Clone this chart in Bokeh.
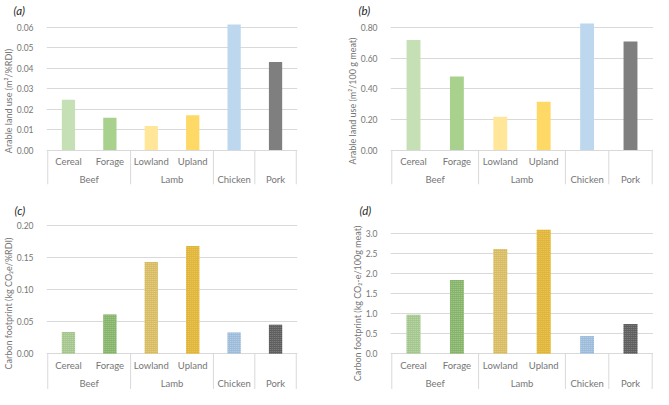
from bokeh.plotting import figure
from bokeh.layouts import column, row
from bokeh.models import FactorRange, ColumnDataSource, Range1d, FixedTicker, NumeralTickFormatter, Title
from bokeh.embed import file_html
from bokeh.resources import INLINE
from bokeh.core.properties import value

# ---- data ----
animals = ["Beef", "Beef", "Lamb", "Lamb", "Chicken", "Pork"]
systems = ["Cereal", "Forage", "Lowland", "Upland", "", ""]

land_per_rdi = [0.0246, 0.0158, 0.0118, 0.0170, 0.0614, 0.0430]
land_per_100g = [0.718, 0.479, 0.218, 0.315, 0.825, 0.707]
carbon_per_rdi = [0.034, 0.061, 0.143, 0.168, 0.033, 0.045]
carbon_per_100g = [0.97, 1.84, 2.61, 3.09, 0.44, 0.74]

ticks_a = [0.00, 0.01, 0.02, 0.03, 0.04, 0.05, 0.06]
ticks_b = [0.00, 0.20, 0.40, 0.60, 0.80]
ticks_c = [0.00, 0.05, 0.10, 0.15, 0.20]
ticks_d = [0.0, 0.5, 1.0, 1.5, 2.0, 2.5, 3.0]

solid_colors = ["#c5e0b4", "#a9d18e", "#ffe699", "#ffd966", "#bdd7ee", "#7f7f7f"]
hatch_bg = ["#d3e6c6", "#b8d8a2", "#f3e2a6", "#f5d672", "#cfe0f0", "#9a9a9a"]
hatch_fg = ["#94bb7b", "#76a85a", "#cdad4c", "#d8aa2a", "#8cafd2", "#4a4a4a"]

FONT = "Lato"
TXT = "#767676"
GRID = "#d9d9d9"

factors = list(zip(animals, systems))
groups = list(dict.fromkeys(animals))
edges = [0]
for gname in groups:
    edges.append(edges[-1] + animals.count(gname))


def panel(letter, ylabel, values, ticks, fmt, fill, hatch, width, height,
          left, right, top, bottom, g, z, b, title_off):
    ymax = ticks[-1]
    dpp = ymax / (z - g)
    xr = FactorRange(factors=factors, factor_padding=0, group_padding=0,
                     range_padding=0.03, range_padding_units="absolute")
    p = figure(width=width, height=height, x_range=xr,
               y_range=Range1d(-b * dpp, ymax + g * dpp),
               output_backend="svg", toolbar_location=None, tools="",
               min_border_left=left, min_border_right=right,
               min_border_top=top, min_border_bottom=bottom, title=letter)
    p.outline_line_color = None
    p.title.text_font = FONT
    p.title.text_font_size = "11.5px"
    p.title.text_font_style = "italic"
    p.title.text_color = "#262626"
    p.title.align = "left"
    p.title.offset = title_off
    p.title.standoff = 2

    p.xaxis.visible = False
    p.xgrid.visible = False
    p.ygrid.ticker = FixedTicker(ticks=ticks)
    p.ygrid.grid_line_color = GRID
    ax = p.yaxis[0]
    ax.ticker = FixedTicker(ticks=ticks)
    ax.formatter = NumeralTickFormatter(format=fmt)
    ax.axis_line_color = None
    ax.major_tick_line_color = None
    ax.minor_tick_line_color = None
    ax.major_label_standoff = 7
    ax.major_label_text_font = FONT
    ax.major_label_text_font_size = "8.5px"
    ax.major_label_text_color = TXT

    yt = Title(text=ylabel, align="center", offset=(b - g) / 2,
               text_font=FONT, text_font_size="9px", text_font_style="normal",
               text_color=TXT, standoff=0)
    p.add_layout(yt, "left")

    if hatch is None:
        src = ColumnDataSource(dict(x=factors, top=values, fill=fill))
        p.vbar(x="x", top="top", width=0.32, source=src, fill_color="fill", line_color=None)
    else:
        src = ColumnDataSource(dict(x=factors, top=values, fill=fill, hatch=hatch))
        p.vbar(x="x", top="top", width=0.32, source=src, fill_color="fill", line_color=None,
               hatch_pattern="left_diagonal_line", hatch_color="hatch",
               hatch_scale=2, hatch_weight=0.8)

    n = len(edges)
    p.segment(x0=edges, y0=[0] * n, x1=edges, y1=[-b * dpp] * n,
              line_color=GRID, line_width=1)
    p.text(x=factors, y=[-12 * dpp] * len(factors), text=systems,
           text_font=value(FONT), text_font_size="9.5px", text_color=TXT,
           text_align="center", text_baseline="middle")
    p.text(x=groups, y=[-29.5 * dpp] * len(groups), text=groups,
           text_font=value(FONT), text_font_size="9.5px", text_color=TXT,
           text_align="center", text_baseline="middle")
    return p


pa = panel("(a)", "Arable land use (m\u00b2/%RDI)", land_per_rdi, ticks_a, "0.00",
           solid_colors, None, 327, 200, 35, 30, 14, 16, 10, 135, 35, -33)
pb = panel("(b)", "Arable land use (m\u00b2/100 g meat)", land_per_100g, ticks_b, "0.00",
           solid_colors, None, 326, 200, 63, 0, 14, 16, 10, 135, 35, -32)
pc = panel("(c)", "Carbon footprint (kg CO\u2082e/%RDI)", carbon_per_rdi, ticks_c, "0.00",
           hatch_bg, hatch_fg, 327, 189, 35, 30, 16, 0, 8, 137, 36, -32)
pd = panel("(d)", "Carbon footprint (kg CO\u2082-e/100g meat)", carbon_per_100g, ticks_d, "0.0",
           hatch_bg, hatch_fg, 326, 189, 63, 0, 16, 0, 16, 137, 36, -31)

layout = column(row(pa, pb), row(pc, pd))
open("out.html", "w").write(file_html(layout, INLINE))
